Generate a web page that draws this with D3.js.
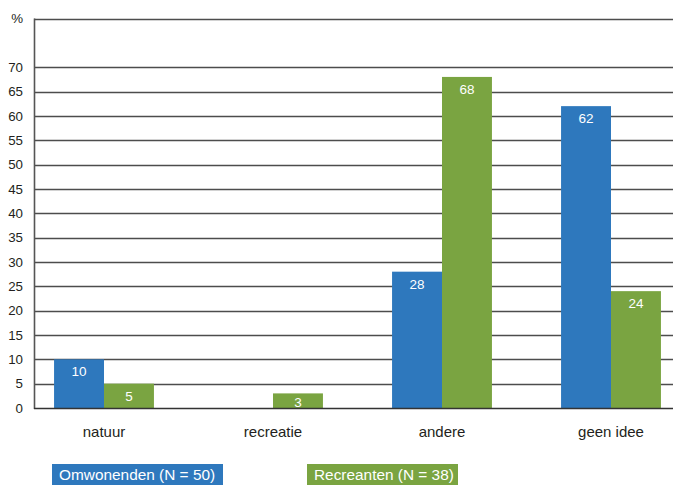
<!DOCTYPE html>
<html>
<head>
<meta charset="utf-8">
<script src="https://cdn.jsdelivr.net/npm/d3@7"></script>
<style>
  html, body { margin: 0; padding: 0; background: #fff; }
  svg { display: block; font-family: "Liberation Sans", Arial, Helvetica, sans-serif; }
</style>
</head>
<body>
<svg id="chart" width="673" height="485"></svg>
<script>
// Categories, series and values (percentages)
const categories = ["natuur", "recreatie", "andere", "geen idee"];
const seriesNames = ["Omwonenden (N = 50)", "Recreanten (N = 38)"];
const omwonenden = [10, 0, 28, 62];
const recreanten = [5, 3, 68, 24];
const yTicks = [0, 5, 10, 15, 20, 25, 30, 35, 40, 45, 50, 55, 60, 65, 70];
const yMax = 80;

const colors = ["#2e78bd", "#7aa441"];
const ink = "#231f20";

const svg = d3.select("#chart");
const W = 673;
const axisX = 34;
const y0 = 408;

const y = d3.scaleLinear().domain([0, yMax]).range([y0, 18.5]);

const x0 = d3.scaleBand()
  .domain(categories)
  .range([19.5, 695.5])
  .paddingInner(0.409)
  .paddingOuter(0.2045);

const x1 = d3.scaleBand()
  .domain(seriesNames)
  .range([0, x0.bandwidth()]);

// Horizontal grid lines, including the top frame line at 80
const gridVals = yTicks.filter(d => d > 0).concat([yMax]);
svg.append("g")
  .selectAll("line")
  .data(gridVals)
  .join("line")
  .attr("x1", axisX).attr("x2", W)
  .attr("y1", d => Math.round(y(d)) + 0.5)
  .attr("y2", d => Math.round(y(d)) + 0.5)
  .attr("stroke", "#4d4d4d")
  .attr("stroke-width", 1.3);

// Bars
const rows = categories.map((c, i) => ({
  cat: c,
  values: [
    { s: seriesNames[0], v: omwonenden[i], k: 0 },
    { s: seriesNames[1], v: recreanten[i], k: 1 }
  ]
}));

const groups = svg.append("g")
  .selectAll("g")
  .data(rows)
  .join("g")
  .attr("transform", d => `translate(${x0(d.cat)},0)`);

groups.selectAll("rect")
  .data(d => d.values.filter(e => e.v > 0))
  .join("rect")
  .attr("x", d => x1(d.s))
  .attr("width", x1.bandwidth())
  .attr("y", d => y(d.v))
  .attr("height", d => y(0) - y(d.v))
  .attr("fill", d => colors[d.k]);

groups.selectAll("text")
  .data(d => d.values.filter(e => e.v > 0))
  .join("text")
  .attr("x", d => x1(d.s) + x1.bandwidth() / 2)
  .attr("y", d => Math.min(y(d.v) + 17, y(0) - 1.5))
  .attr("text-anchor", "middle")
  .attr("fill", "#fff")
  .attr("font-size", 13.5)
  .text(d => d.v);

// Y axis: line and labels
const yAxis = d3.axisLeft(y)
  .tickValues(yTicks)
  .tickSize(0)
  .tickPadding(11);
const yg = svg.append("g")
  .attr("transform", `translate(${axisX},0)`)
  .call(yAxis);
yg.select(".domain").remove();
yg.selectAll("text")
  .attr("font-size", 13.3)
  .attr("font-family", "\"Liberation Sans\", Arial, sans-serif")
  .attr("fill", ink);

svg.append("line")
  .attr("x1", axisX + 0.5).attr("x2", axisX + 0.5)
  .attr("y1", y(yMax)).attr("y2", y0 + 1)
  .attr("stroke", "#555")
  .attr("stroke-width", 1.6);

// Baseline
svg.append("line")
  .attr("x1", axisX).attr("x2", W)
  .attr("y1", y0 + 0.5).attr("y2", y0 + 0.5)
  .attr("stroke", "#333")
  .attr("stroke-width", 1.5);

// Unit label
svg.append("text")
  .attr("x", axisX - 11)
  .attr("y", y(yMax) + 4.5)
  .attr("text-anchor", "end")
  .attr("font-size", 13.3)
  .attr("fill", ink)
  .text("%");

// Category labels
const xAxis = d3.axisBottom(x0).tickSize(0).tickPadding(18);
const xg = svg.append("g")
  .attr("transform", `translate(0,${y0})`)
  .call(xAxis);
xg.select(".domain").remove();
xg.selectAll("text")
  .attr("font-size", 15)
  .attr("font-family", "\"Liberation Sans\", Arial, sans-serif")
  .attr("fill", ink);

// Legend: coloured boxes with white text
const legendX = [52, 307];
const legendW = [171, 151];
const leg = svg.append("g")
  .selectAll("g")
  .data(seriesNames)
  .join("g")
  .attr("transform", (d, i) => `translate(${legendX[i]},464)`);
leg.append("rect")
  .attr("width", (d, i) => legendW[i])
  .attr("height", 21)
  .attr("fill", (d, i) => colors[i]);
leg.append("text")
  .attr("x", 7)
  .attr("y", 16)
  .attr("font-size", 15.4)
  .attr("fill", "#fff")
  .text(d => d);
</script>
</body>
</html>
